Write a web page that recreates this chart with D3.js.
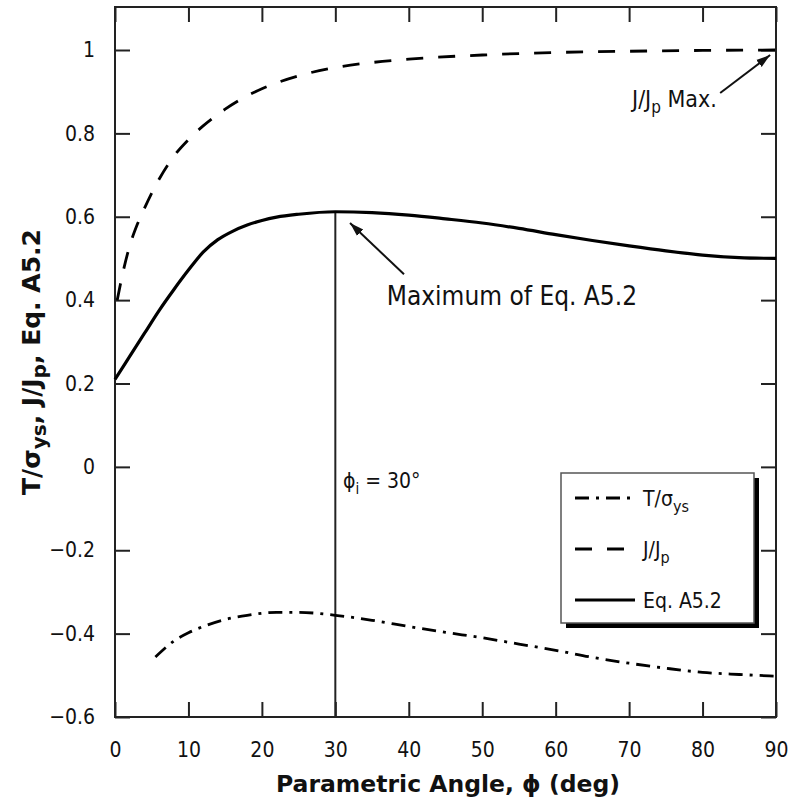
<!DOCTYPE html>
<html lang="en">
<head>
  <meta charset="UTF-8" />
  <title>Parametric Angle</title>
  <style>
    body { margin: 0; background: #fff; }
    svg { display: block; }
    text { font-family: "DejaVu Sans Condensed", "DejaVu Sans", sans-serif; fill: #111; }
    .tick text { font-size: 21px; }
    .title { font-family: "DejaVu Sans", sans-serif; font-weight: bold; }
  </style>
</head>
<body>
  <div id="chart"></div>
  <script src="https://cdn.jsdelivr.net/npm/d3@7"></script>
  <script>
    // values
    const xTicks = [0, 10, 20, 30, 40, 50, 60, 70, 80, 90];
    const yTicks = [-0.6, -0.4, -0.2, 0, 0.2, 0.4, 0.6, 0.8, 1];

    const eqAngle = [0, 2, 4, 6, 8, 10, 12, 14, 16, 18, 20, 22, 25, 30, 35, 40, 45, 50, 55, 60, 65, 70, 75, 80, 85, 90];
    const eqValue = [0.21, 0.265, 0.32, 0.375, 0.425, 0.472, 0.515, 0.545, 0.565, 0.58, 0.591, 0.599, 0.606, 0.612, 0.61, 0.604, 0.595, 0.585, 0.572, 0.557, 0.543, 0.53, 0.518, 0.508, 0.502, 0.5];

    const jAngle = [0.3, 1, 2, 3, 4, 5, 6, 8, 10, 12, 15, 18, 20, 25, 30, 35, 40, 50, 60, 70, 80, 90];
    const jValue = [0.4, 0.46, 0.53, 0.58, 0.62, 0.657, 0.69, 0.745, 0.785, 0.818, 0.858, 0.89, 0.907, 0.938, 0.958, 0.97, 0.978, 0.988, 0.994, 0.997, 0.999, 1.0];

    const tAngle = [5.5, 8, 10, 12, 15, 18, 22, 25, 30, 35, 40, 45, 50, 55, 60, 65, 70, 75, 80, 85, 90];
    const tValue = [-0.456, -0.418, -0.398, -0.383, -0.366, -0.356, -0.349, -0.349, -0.356, -0.368, -0.383, -0.397, -0.41, -0.425, -0.44, -0.457, -0.471, -0.483, -0.493, -0.498, -0.502];

    const maxAngle = 30, maxValue = 0.612;

    const W = 793, H = 805;
    const svg = d3.select("#chart").append("svg").attr("width", W).attr("height", H);

    const x = d3.scaleLinear().domain([0, 90]).range([115, 776]);
    const y = d3.scaleLinear().domain([-0.6, 1]).range([717, 50]);
    const plotTop = 7;

    const fmt = d => d3.format("~g")(d);

    svg.append("g").attr("transform", "translate(0,717)")
      .call(d3.axisBottom(x).tickValues(xTicks).tickSizeInner(-15).tickSizeOuter(0).tickPadding(25).tickFormat(fmt));
    svg.append("g").attr("transform", `translate(0,${plotTop})`)
      .call(d3.axisTop(x).tickValues(xTicks).tickSizeInner(-15).tickSizeOuter(0).tickFormat(""));
    svg.append("g").attr("transform", "translate(115,0)")
      .call(d3.axisLeft(y).tickValues(yTicks).tickSizeInner(-15).tickSizeOuter(0).tickPadding(20).tickFormat(fmt));
    svg.append("g").attr("transform", "translate(776,0)")
      .call(d3.axisRight(y).tickValues(yTicks).tickSizeInner(-15).tickSizeOuter(0).tickFormat(""));

    svg.selectAll(".domain").remove();
    svg.selectAll(".tick line").attr("stroke", "#222").attr("stroke-width", 2);
    svg.selectAll(".tick text").attr("fill", "#111");

    svg.append("rect")
      .attr("x", 115).attr("y", plotTop).attr("width", 776 - 115).attr("height", 717 - plotTop)
      .attr("fill", "none").attr("stroke", "#222").attr("stroke-width", 2);

    const line = d3.line().x(d => x(d[0])).y(d => y(d[1])).curve(d3.curveMonotoneX);

    // vertical line at the maximum
    svg.append("line")
      .attr("x1", x(maxAngle)).attr("x2", x(maxAngle))
      .attr("y1", y(-0.6)).attr("y2", y(maxValue))
      .attr("stroke", "#222").attr("stroke-width", 2);

    svg.append("path").datum(d3.zip(eqAngle, eqValue))
      .attr("d", line).attr("fill", "none").attr("stroke", "#000").attr("stroke-width", 3.2);
    svg.append("path").datum(d3.zip(jAngle, jValue))
      .attr("d", line).attr("fill", "none").attr("stroke", "#000").attr("stroke-width", 2.8)
      .attr("stroke-dasharray", "17,15");
    svg.append("path").datum(d3.zip(tAngle, tValue))
      .attr("d", line).attr("fill", "none").attr("stroke", "#000").attr("stroke-width", 2.8)
      .attr("stroke-dasharray", "14,7,3,7");

    // arrows
    svg.append("defs").append("marker")
      .attr("id", "arrow").attr("viewBox", "0 0 10 10").attr("refX", 10).attr("refY", 5)
      .attr("markerWidth", 14).attr("markerHeight", 14).attr("markerUnits", "userSpaceOnUse")
      .attr("orient", "auto")
      .append("path").attr("d", "M0,1.8 L10,5 L0,8.2 Z").attr("fill", "#111");

    const arrows = [
      { from: [39.35, 0.462], to: [32.0, 0.585] },
      { from: [82.4, 0.897], to: [89.2, 0.988] }
    ];
    svg.selectAll(".arrow").data(arrows).join("line")
      .attr("x1", d => x(d.from[0])).attr("y1", d => y(d.from[1]))
      .attr("x2", d => x(d.to[0])).attr("y2", d => y(d.to[1]))
      .attr("stroke", "#111").attr("stroke-width", 2).attr("marker-end", "url(#arrow)");

    svg.append("text").attr("x", x(37.0)).attr("y", y(0.388))
      .style("font-size", "26px").text("Maximum of Eq. A5.2");

    const jm = svg.append("text").attr("x", x(70.4)).attr("y", y(0.863)).style("font-size", "23px");
    jm.append("tspan").text("J/J");
    jm.append("tspan").attr("dy", 6).style("font-size", "17px").text("p");
    jm.append("tspan").attr("dy", -6).text(" Max.");

    const phi = svg.append("text").attr("x", x(31.05)).attr("y", y(-0.051)).style("font-size", "21px");
    phi.append("tspan").text("ϕ");
    phi.append("tspan").attr("dy", 6).style("font-size", "15px").text("i");
    phi.append("tspan").attr("dy", -6).text(" = 30°");

    // legend
    const lg = svg.append("g").attr("transform", "translate(561,473)");
    lg.append("rect").attr("x", 5).attr("y", 5).attr("width", 193).attr("height", 150).attr("fill", "#000");
    lg.append("rect").attr("width", 193).attr("height", 150).attr("fill", "#fff")
      .attr("stroke", "#555").attr("stroke-width", 1.5);

    const legendItems = [
      { name: "T/σ", sub: "ys", dash: "14,7,3,7", width: 2.8 },
      { name: "J/J", sub: "p", dash: "17,15", width: 2.8 },
      { name: "Eq. A5.2", sub: "", dash: null, width: 3.2 }
    ];
    legendItems.forEach((d, i) => {
      const yy = 25 + i * 51;
      lg.append("line").attr("x1", 14).attr("x2", 74).attr("y1", yy).attr("y2", yy)
        .attr("stroke", "#000").attr("stroke-width", d.width)
        .attr("stroke-dasharray", d.dash);
      const t = lg.append("text").attr("x", 82).attr("y", yy + 8).style("font-size", "21px");
      t.append("tspan").text(d.name);
      if (d.sub) t.append("tspan").attr("dy", 6).style("font-size", "16px").text(d.sub);
    });

    // axis titles
    svg.append("text").attr("class", "title").attr("x", 448).attr("y", 792)
      .attr("text-anchor", "middle").style("font-size", "23.5px").text("Parametric Angle, ϕ (deg)");

    const yt = svg.append("text").attr("class", "title")
      .attr("transform", `translate(40,${(plotTop + 717) / 2}) rotate(-90)`)
      .attr("text-anchor", "middle").style("font-size", "25px");
    yt.append("tspan").text("T/σ");
    yt.append("tspan").attr("dy", 6).style("font-size", "20px").text("ys");
    yt.append("tspan").attr("dy", -6).text(", J/J");
    yt.append("tspan").attr("dy", 6).style("font-size", "20px").text("p");
    yt.append("tspan").attr("dy", -6).text(", Eq. A5.2");
  </script>
</body>
</html>
